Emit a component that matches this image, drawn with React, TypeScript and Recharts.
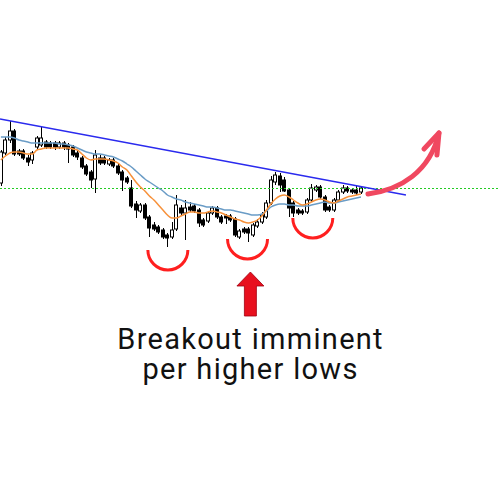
import React from 'react';
import { ComposedChart, Bar, Line, XAxis, YAxis, ReferenceLine, ReferenceDot } from 'recharts';

// candles, one per session
const opens = [
  317, 347, 360, 369, 349, 349, 342, 340, 353, 355,
  358, 357, 357, 353, 357, 355, 353, 347, 342, 334,
  328, 321, 342, 342, 336, 340, 334, 328, 322, 312,
  296, 289, 295, 283, 275, 273, 270, 265, 263, 271,
  292, 287, 293, 294, 290, 280, 279, 287, 292, 283,
  284, 284, 281, 263, 271, 271, 265, 274, 278, 283,
  297, 318, 324, 320, 310, 297, 290, 289, 288, 300,
  310, 313, 303, 293, 290, 300, 308, 312, 310, 310,
  308,
];
const highs = [
  350, 363, 379, 371, 351, 351, 345, 349, 364, 373,
  360, 359, 359, 359, 359, 357, 355, 350, 344, 336,
  330, 350, 345, 344, 342, 342, 336, 330, 324, 320,
  299, 297, 297, 285, 278, 275, 272, 267, 278, 305,
  295, 300, 298, 296, 292, 282, 289, 294, 294, 285,
  286, 286, 283, 271, 273, 273, 277, 281, 288, 300,
  324, 328, 327, 323, 312, 299, 292, 291, 302, 316,
  315, 315, 305, 295, 302, 310, 315, 314, 312, 315,
  314,
];
const lows = [
  314, 345, 357, 344, 344, 340, 334, 336, 351, 353,
  351, 351, 350, 351, 350, 337, 343, 340, 331, 324,
  312, 307, 335, 335, 334, 332, 325, 309, 316, 292,
  282, 287, 280, 263, 269, 266, 261, 253, 261, 269,
  285, 260, 288, 287, 273, 273, 277, 285, 281, 276,
  276, 278, 263, 261, 266, 258, 263, 272, 276, 281,
  295, 315, 308, 308, 283, 283, 285, 285, 286, 298,
  308, 301, 288, 288, 288, 298, 306, 307, 306, 305,
  306,
];
const closes = [
  348, 360, 369, 346, 346, 342, 338, 347, 362, 362,
  353, 353, 353, 357, 353, 351, 345, 343, 333, 326,
  320, 345, 337, 337, 340, 334, 327, 320, 318, 294,
  290, 295, 282, 272, 271, 268, 263, 262, 270, 295,
  287, 292, 290, 289, 277, 275, 287, 292, 283, 278,
  282, 280, 265, 269, 268, 267, 275, 278, 285, 297,
  320, 325, 315, 309, 292, 287, 287, 287, 300, 312,
  313, 303, 290, 290, 300, 308, 312, 309, 308, 307,
  312,
];

// moving averages
const fastMa = [
  340, 344, 347, 348, 348, 347, 346, 346, 350, 351,
  352, 352, 352, 352, 352, 352, 351, 350, 346, 342,
  340, 341, 341, 341, 340, 339, 337, 333, 330, 324,
  318, 313, 309, 304, 300, 295, 290, 285, 282, 282,
  284, 286, 288, 288, 287, 287, 288, 289, 288, 287,
  285, 283, 281, 280, 278, 277, 278, 280, 284, 290,
  296, 301, 304, 305, 303, 300, 297, 295, 296, 298,
  300, 301, 300, 298, 297, 299, 301, 303, 304, 305,
  306,
];
const slowMa = [
  363, 363, 363, 362, 360, 359, 358, 357, 357, 357,
  357, 357, 357, 356, 356, 355, 354, 352, 350, 348,
  347, 346, 346, 345, 344, 343, 341, 339, 336, 333,
  329, 325, 321, 318, 315, 312, 309, 305, 303, 301,
  300, 298, 297, 296, 295, 294, 293, 293, 292, 291,
  290, 290, 289, 288, 287, 286, 285, 285, 286, 289,
  293, 295, 296, 296, 295, 295, 294, 294, 294, 295,
  296, 297, 298, 297, 297, 298, 299, 300, 301, 302,
  303,
];

// falling resistance line and flat level
const trendX = [-0.2, 90];
const trendY = [381, 305];
const flatLevel = 311.5;

// higher lows
const lowIdx = [37.1, 54.8, 69.3];
const lowLevel = [250, 261, 282];

const caption = ['Breakout imminent', 'per higher lows'];

const data = opens.map((o, i) => ({
  i,
  open: o,
  high: highs[i],
  low: lows[i],
  close: closes[i],
  fast: fastMa[i],
  slow: slowMa[i],
}));
const trend = trendX.map((x, k) => ({ i: x, v: trendY[k] }));

const Candle = (props: any) => {
  const { x, y, width, height, payload } = props;
  const top = Math.min(y, y + height);
  const bot = Math.max(y, y + height);
  const span = payload.high - payload.low || 1;
  const toY = (v: number) => top + ((payload.high - v) / span) * (bot - top);
  const cx = Math.round(x + width / 2) + 0.5;
  const up = payload.close >= payload.open;
  const y1 = toY(Math.max(payload.open, payload.close));
  const y2 = toY(Math.min(payload.open, payload.close));
  return (
    <g>
      <line x1={cx} x2={cx} y1={top} y2={bot} stroke="#000" strokeWidth={1} />
      <rect
        x={cx - 2}
        y={y1}
        width={3}
        height={Math.max(y2 - y1, 1)}
        fill={up ? '#fff' : '#000'}
        stroke="#000"
        strokeWidth={1}
      />
    </g>
  );
};

const Smile = ({ cx, cy }: any) => (
  <path
    d={`M${cx - 20},${cy} A20,20 0 0 0 ${cx + 20},${cy}`}
    fill="none"
    stroke="#ff1f1f"
    strokeWidth={3}
  />
);

const UpArrow = ({ cx, cy }: any) => (
  <path
    d={`M${cx},${cy} L${cx + 13.5},${cy + 14} L${cx + 6},${cy + 14} L${cx + 6},${cy + 44} L${cx - 6},${cy + 44} L${cx - 6},${cy + 14} L${cx - 13.5},${cy + 14} Z`}
    fill="#e8101e"
    stroke="#a00010"
    strokeWidth={0.8}
  />
);

const BreakoutArrow = ({ cx, cy }: any) => (
  <g fill="none" stroke="#f04860" strokeWidth={5} strokeLinecap="round" strokeLinejoin="round">
    <path d={`M${cx},${cy} C${cx + 32},${cy - 4} ${cx + 62},${cy - 22} ${cx + 71},${cy - 61}`} />
    <path d={`M${cx + 56},${cy - 45} L${cx + 71},${cy - 61} L${cx + 69},${cy - 39}`} />
  </g>
);

const App = () => {
  return (
    <div style={{ position: 'absolute', left: 0, top: 0, width: 500, height: 500, background: '#fff' }}>
      <ComposedChart width={500} height={500} data={data} margin={{ top: 0, right: 0, bottom: 0, left: 0 }}>
        <XAxis type="number" dataKey="i" domain={[-0.2, 110.9]} allowDataOverflow hide />
        <YAxis type="number" domain={[0, 500]} allowDataOverflow hide />
        <ReferenceLine y={flatLevel} stroke="#22cc22" strokeDasharray="2 2" strokeWidth={1} />
        <Bar
          dataKey={(d: any) => [d.low, d.high]}
          barSize={3}
          shape={Candle}
          isAnimationActive={false}
        />
        <Line dataKey="slow" type="monotone" stroke="#6a9cc6" strokeWidth={1.5} dot={false} activeDot={false} isAnimationActive={false} />
        <Line dataKey="fast" type="monotone" stroke="#f7913a" strokeWidth={1.5} dot={false} activeDot={false} isAnimationActive={false} />
        <Line data={trend} dataKey="v" type="linear" stroke="#2a2aee" strokeWidth={1.3} dot={false} activeDot={false} isAnimationActive={false} />
        {lowIdx.map((x, k) => (
          <ReferenceDot key={k} x={x} y={lowLevel[k]} r={20} shape={Smile} />
        ))}
        <ReferenceDot x={55.44} y={228} r={14} shape={UpArrow} />
        <ReferenceDot x={81.56} y={306} r={5} shape={BreakoutArrow} />
      </ComposedChart>
      <svg width={500} height={500} style={{ position: 'absolute', left: 0, top: 0, pointerEvents: 'none' }}>
        {caption.map((t, k) => (
          <text
            key={k}
            x={250.6}
            y={349 + k * 30}
            textAnchor="middle"
            fontFamily="Roboto"
            fontSize={29}
            letterSpacing={1.3}
            fill="#111"
          >
            {t}
          </text>
        ))}
      </svg>
    </div>
  );
};

export default App;
